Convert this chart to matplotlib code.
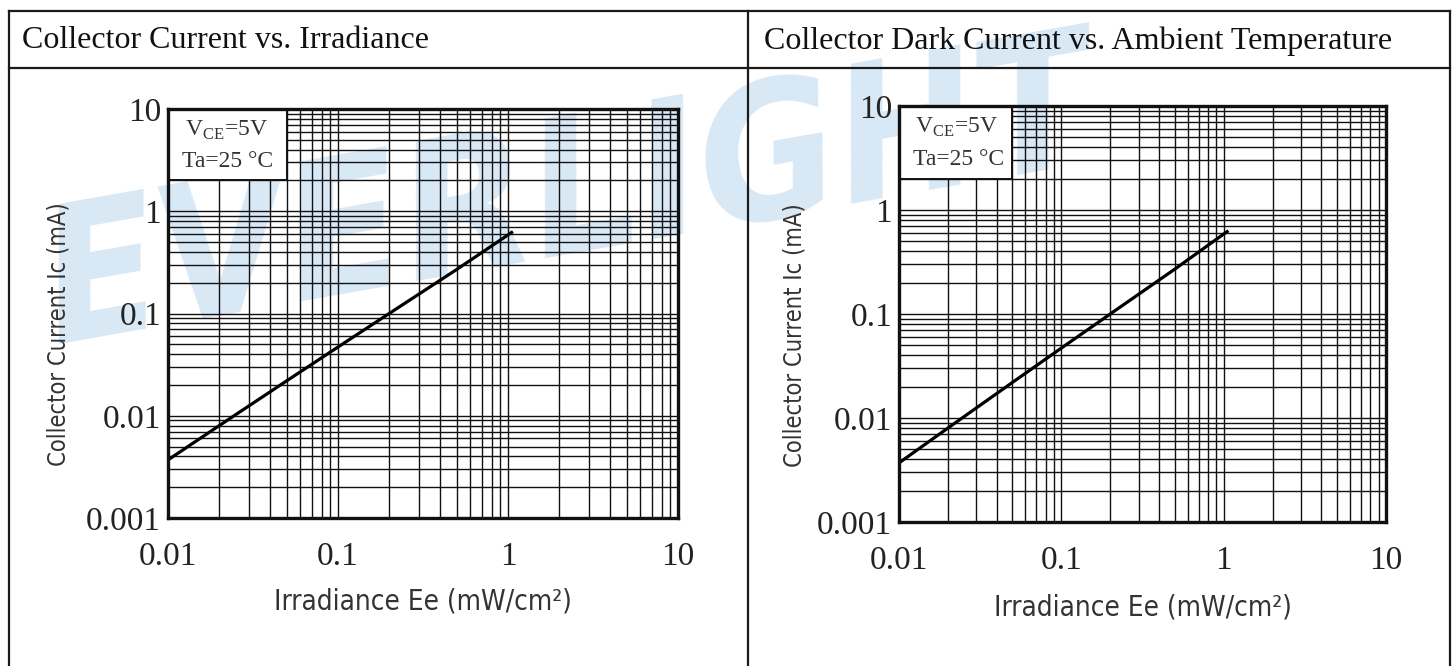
import matplotlib.pyplot as plt
from matplotlib.patches import Rectangle
from matplotlib.ticker import FixedLocator, FixedFormatter, NullFormatter, LogLocator

# values (same curve in both panels)
irradiance = [0.01, 0.02, 0.05, 0.1, 0.2, 0.5, 1.05]
collector_current = [0.0037, 0.0080, 0.022, 0.047, 0.10, 0.27, 0.62]

x_ticks = [0.01, 0.1, 1, 10]
x_labels = ["0.01", "0.1", "1", "10"]
y_ticks = [0.001, 0.01, 0.1, 1, 10]
y_labels = ["0.001", "0.01", "0.1", "1", "10"]

titles = ["Collector Current vs. Irradiance",
          "Collector Dark Current vs. Ambient Temperature"]
xlabel = "Irradiance Ee (mW/cm²)"
ylabel = "Collector Current Ic (mA)"
note1 = "V$_{\\mathrm{CE}}$=5V"
note2 = "Ta=25 °C"

plt.rcParams["mathtext.fontset"] = "custom"
plt.rcParams["mathtext.rm"] = "Liberation Serif"

W, H = 1453, 666
fig = plt.figure(figsize=(W / 100, H / 100), dpi=100)

# background axes in pixel coords: watermark + table lines + titles
bg = fig.add_axes([0, 0, 1, 1])
bg.set_xlim(0, W)
bg.set_ylim(H, 0)
bg.axis("off")
bg.set_zorder(-5)

bg.text(570, 200, "EVERLIGHT", rotation=10, fontsize=136, fontweight="bold",
        style="italic", fontstretch="condensed", color="#d8e8f5",
        ha="center", va="center", rotation_mode="anchor",
        family="DejaVu Sans", zorder=0)

lc = "#1a1a1a"
bg.plot([9, 1450], [11, 11], color=lc, lw=1.6, zorder=2)
bg.plot([9, 1450], [67.5, 67.5], color=lc, lw=1.6, zorder=2)
for xx in [9, 748, 1450]:
    bg.plot([xx, xx], [11, H], color=lc, lw=1.6, zorder=2)

bg.text(22, 41, titles[0], fontsize=23, family="Liberation Serif",
        ha="left", va="center", color="#111111", zorder=3)
bg.text(764, 41, titles[1], fontsize=23, family="Liberation Serif",
        ha="left", va="center", color="#111111", zorder=3)

boxes = [[168 / W, (H - 518) / H, 510 / W, 409 / H],
         [899 / W, (H - 522) / H, 487 / W, 416 / H]]

for pos in boxes:
    ax = fig.add_axes(pos)
    ax.set_facecolor("none")
    ax.set_xscale("log")
    ax.set_yscale("log")
    ax.set_xlim(0.01, 10)
    ax.set_ylim(0.001, 10)

    ax.xaxis.set_major_locator(FixedLocator(x_ticks))
    ax.xaxis.set_major_formatter(FixedFormatter(x_labels))
    ax.yaxis.set_major_locator(FixedLocator(y_ticks))
    ax.yaxis.set_major_formatter(FixedFormatter(y_labels))
    ax.xaxis.set_minor_locator(LogLocator(base=10, subs=range(2, 10)))
    ax.yaxis.set_minor_locator(LogLocator(base=10, subs=range(2, 10)))
    ax.xaxis.set_minor_formatter(NullFormatter())
    ax.yaxis.set_minor_formatter(NullFormatter())

    ax.grid(True, which="both", color="#111111", lw=1.0)
    ax.tick_params(which="both", length=0)
    ax.tick_params(axis="x", pad=17, labelsize=24, labelcolor="#222222")
    ax.tick_params(axis="y", pad=5, labelsize=24, labelcolor="#222222")
    for lab in ax.get_xticklabels() + ax.get_yticklabels():
        lab.set_family("Liberation Serif")

    for sp in ax.spines.values():
        sp.set_linewidth(2.4)
        sp.set_color("#111111")
        sp.set_zorder(6)

    ax.plot(irradiance, collector_current, color="black", lw=2.3, zorder=5)

    ax.add_patch(Rectangle((0.01, 2), 0.04, 8, facecolor="white",
                           edgecolor="#111111", lw=1.4, zorder=4))
    ax.text(0.033, 0.948, note1, transform=ax.transAxes, fontsize=17,
            family="Liberation Serif", va="center", ha="left",
            color="#333333", zorder=7)
    ax.text(0.028, 0.872, note2, transform=ax.transAxes, fontsize=17,
            family="Liberation Serif", va="center", ha="left",
            color="#333333", zorder=7)

    ax.set_xlabel(xlabel, fontsize=20, color="#333333",
                  family="DejaVu Sans", fontstretch="condensed")
    ax.set_ylabel(ylabel, fontsize=17, color="#333333",
                  family="DejaVu Sans", fontstretch="condensed")
    ax.xaxis.set_label_coords(0.5, -0.205)
    ax.yaxis.set_label_coords(-0.214, 0.45)
    ax.xaxis.label.set_va("center")
    ax.yaxis.label.set_va("center")

fig.savefig("out.png", dpi=100)
